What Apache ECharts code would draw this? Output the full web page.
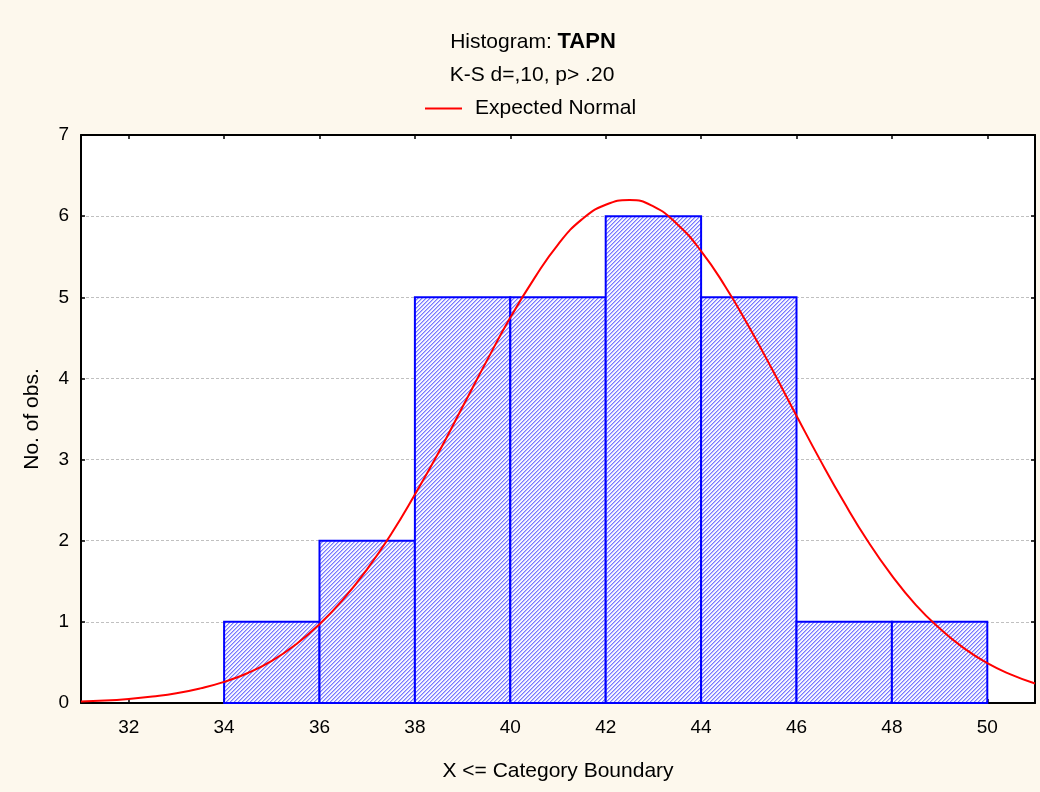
<!DOCTYPE html>
<html>
<head>
<meta charset="utf-8">
<script src="https://cdn.jsdelivr.net/npm/echarts@6/dist/echarts.min.js"></script>
<style>
html,body{margin:0;padding:0;background:#fdf8ed;}
#chart{width:1040px;height:792px;}
</style>
</head>
<body>
<div id="chart"></div>
<script>
// ---- data ----
const binStart = [34, 36, 38, 40, 42, 44, 46, 48];
const binEnd   = [36, 38, 40, 42, 44, 46, 48, 50];
const counts   = [1, 2, 5, 5, 6, 5, 1, 1];
const curveX = [31, 31.5, 32, 32.5, 33, 33.5, 34, 34.5, 35, 35.5, 36, 36.5, 37, 37.5, 38, 38.5, 39, 39.5, 40, 40.5,
                41, 41.5, 42, 42.5, 43, 43.5, 44, 44.5, 45, 45.5, 46, 46.5, 47, 47.5, 48, 48.5, 49, 49.5, 50, 50.5, 51];
const curveY = [0.02, 0.03, 0.05, 0.08, 0.12, 0.18, 0.26, 0.37, 0.52, 0.72, 0.97, 1.28, 1.65, 2.08, 2.57, 3.09, 3.65, 4.21, 4.75, 5.23,
                5.65, 5.96, 6.14, 6.20, 6.12, 5.90, 5.57, 5.14, 4.64, 4.10, 3.54, 2.99, 2.47, 1.99, 1.57, 1.21, 0.92, 0.68, 0.49, 0.35, 0.24];
const xTicks = [32, 34, 36, 38, 40, 42, 44, 46, 48, 50];
const titleMain = 'Histogram: ';
const titleVar = 'TAPN';
const subTitle = 'K-S d=,10, p> .20';
const seriesName = 'Expected Normal';
const xName = 'X <= Category Boundary';
const yName = 'No. of obs.';

// ---- hatch pattern ----
const pc = document.createElement('canvas');
pc.width = 4; pc.height = 4;
const ctx = pc.getContext('2d');
ctx.fillStyle = '#f6f6ff'; ctx.fillRect(0, 0, 4, 4);
for (let i = 0; i < 4; i++) {
  ctx.fillStyle = '#7878ff'; ctx.fillRect(3 - i, i, 1, 1);
  ctx.fillStyle = '#b8b8ff'; ctx.fillRect((4 - i) % 4, i, 1, 1);
}
const hatch = { image: pc, repeat: 'repeat' };

const bins = binStart.map((s, i) => [s, binEnd[i], counts[i]]);
const curve = curveX.map((x, i) => [x, curveY[i]]);

const font = 'Arial, "Liberation Sans", sans-serif';
const chart = echarts.init(document.getElementById('chart'));
chart.setOption({
  backgroundColor: '#fdf8ed',
  animation: false,
  textStyle: { fontFamily: font },
  title: [
    { text: '{n|' + titleMain + '}{b|' + titleVar + '}', left: 528, top: 26, textAlign: 'center',
      textStyle: { fontWeight: 'normal', rich: {
        n: { fontSize: 21, fontWeight: 'normal', color: '#000', fontFamily: font },
        b: { fontSize: 22, fontWeight: 'bold', color: '#000', fontFamily: font } } } },
    { text: subTitle, left: 527, top: 60, textAlign: 'center',
      textStyle: { fontSize: 21, fontWeight: 'normal', color: '#000', fontFamily: font } }
  ],
  legend: {
    left: 420, top: 93, icon: 'rect', itemWidth: 37, itemHeight: 2,
    textStyle: { fontSize: 21, color: '#000', fontFamily: font, padding: [0, 0, 0, 8] },
    data: [seriesName]
  },
  grid: { left: 81, right: 5, top: 135, bottom: 89, show: true, backgroundColor: '#ffffff', borderWidth: 0 },
  xAxis: [
    { type: 'value', min: 31, max: 51, position: 'bottom',
      name: xName, nameLocation: 'middle', nameGap: 58,
      nameTextStyle: { fontSize: 21, color: '#000', fontFamily: font },
      axisLine: { show: true, onZero: false, lineStyle: { color: '#000', width: 2 } },
      axisTick: { show: true, inside: true, length: 4, customValues: xTicks, lineStyle: { color: '#000', width: 1.5 } },
      axisLabel: { customValues: xTicks, fontSize: 19, color: '#000', margin: 15, fontFamily: font },
      splitLine: { show: false } },
    { type: 'value', min: 31, max: 51, position: 'top',
      axisLine: { show: true, onZero: false, lineStyle: { color: '#000', width: 2 } },
      axisTick: { show: true, inside: true, length: 4, customValues: xTicks, lineStyle: { color: '#000', width: 1.5 } },
      axisLabel: { show: false }, splitLine: { show: false } }
  ],
  yAxis: [
    { type: 'value', min: 0, max: 7, interval: 1, position: 'left',
      name: yName, nameLocation: 'middle', nameGap: 38,
      nameTextStyle: { fontSize: 21, color: '#000', fontFamily: font },
      axisLine: { show: true, onZero: false, lineStyle: { color: '#000', width: 2 } },
      axisTick: { show: true, inside: true, length: 4, lineStyle: { color: '#000', width: 1.5 } },
      axisLabel: { fontSize: 19, color: '#000', margin: 12, fontFamily: font },
      splitLine: { show: true, lineStyle: { color: '#c0c0c0', type: [3, 2], width: 1 } } },
    { type: 'value', min: 0, max: 7, interval: 1, position: 'right',
      axisLine: { show: true, onZero: false, lineStyle: { color: '#000', width: 2 } },
      axisTick: { show: true, inside: true, length: 4, lineStyle: { color: '#000', width: 1.5 } },
      axisLabel: { show: false }, splitLine: { show: false } }
  ],
  series: [
    { type: 'custom', name: 'bins', xAxisIndex: 0, yAxisIndex: 0, data: bins, z: 2,
      renderItem: function (params, api) {
        const p0 = api.coord([api.value(0), api.value(2)]);
        const p1 = api.coord([api.value(1), 0]);
        return { type: 'rect',
          shape: { x: p0[0], y: p0[1], width: p1[0] - p0[0], height: p1[1] - p0[1] },
          style: { fill: hatch, stroke: '#0000ff', lineWidth: 2 } };
      } },
    { type: 'line', name: seriesName, xAxisIndex: 0, yAxisIndex: 0, data: curve, smooth: true,
      showSymbol: false, symbol: 'none', z: 3, color: '#ff0000',
      lineStyle: { color: '#ff0000', width: 2 } }
  ]
});
</script>
</body>
</html>
